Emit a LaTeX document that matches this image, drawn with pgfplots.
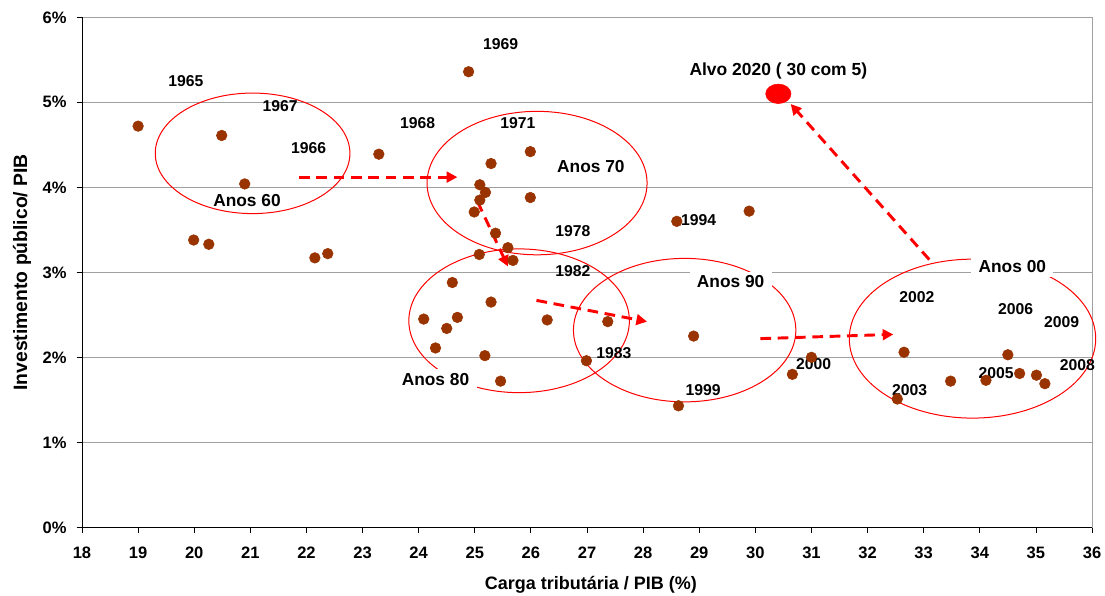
\documentclass[border=0pt]{standalone}
\usepackage{pgfplots}
\pgfplotsset{compat=1.18}
\usepackage{fontspec}
\setmainfont{Liberation Sans}
\usetikzlibrary{arrows.meta,calc}
\definecolor{dotbrown}{RGB}{153,51,0}
\definecolor{gridgray}{RGB}{160,160,160}
\tikzset{
  yearlab/.style={font=\bfseries\fontsize{11.8}{14}\selectfont, inner sep=0pt},
  anoslab/.style={font=\bfseries\fontsize{13}{15}\selectfont, fill=white, inner xsep=5.5pt, inner ysep=3pt},
  ell/.style={red, line width=0.75pt},
  arr/.style={red, line width=2.2pt, dash pattern=on 8pt off 5pt, -{Triangle[length=8pt,width=8pt]}},
}

\begin{document}
\begin{tikzpicture}
\begin{axis}[
  scale only axis, width=757.5pt, height=382.5pt,
  xmin=18, xmax=36, ymin=0, ymax=6,
  xtick={18,...,36}, ytick={0,...,6},
  yticklabels={0\%,1\%,2\%,3\%,4\%,5\%,6\%},
  tick align=outside, xtick pos=bottom, ytick pos=left,
  major tick length=4pt,
  tick style={black, line width=0.6pt},
  ymajorgrids, grid style={gridgray, line width=0.7pt},
  axis line style={gridgray, line width=0.7pt},
  tick label style={font=\bfseries\fontsize{12.4}{14}\selectfont},
  xticklabel style={yshift=-7pt},
  yticklabel style={xshift=-4pt},
  /pgf/number format/assume math mode=true,
  clip=false,
]
% ellipses
\draw[ell] (axis cs:21.04,4.40) ellipse [x radius=73pt, y radius=45.2pt];
\draw[ell] (axis cs:26.11,4.05) ellipse [x radius=82.5pt, y radius=53.8pt];
\draw[ell] (axis cs:25.79,2.43) ellipse [x radius=82.7pt, y radius=53.9pt];
\draw[ell] (axis cs:28.74,2.32) ellipse [x radius=83.4pt, y radius=53.8pt];
\draw[ell] (axis cs:33.87,2.22) ellipse [x radius=92.4pt, y radius=59.6pt];

% data points 1965-2009
\addplot[only marks, mark=*, mark size=4pt, color=dotbrown, mark options={fill=dotbrown, draw=dotbrown}] coordinates {
(19.00,4.72) (20.49,4.61) (20.90,4.04) (19.99,3.38) (20.26,3.33)
(22.15,3.17) (22.38,3.22) (23.29,4.39) (24.89,5.36)
(25.29,4.28) (25.99,4.42) (25.09,4.03) (25.19,3.94) (25.09,3.85)
(24.99,3.71) (25.99,3.88) (25.37,3.46) (25.59,3.29) (25.08,3.21)
(25.68,3.14) (24.60,2.88) (28.60,3.60) (29.89,3.72)
(25.29,2.65) (24.09,2.45) (24.69,2.47) (24.50,2.34) (24.30,2.11)
(25.18,2.02) (25.46,1.72) (26.29,2.44) (27.37,2.42) (26.99,1.96)
(28.90,2.25) (28.63,1.43)
(30.66,1.80) (31.00,2.00) (32.65,2.06) (32.53,1.51) (33.48,1.72)
(34.11,1.73) (34.50,2.03) (34.71,1.81) (35.01,1.79) (35.16,1.69)
};
% target 2020
\addplot[only marks, mark=*, mark size=7.3pt, color=red, mark options={fill=red, draw=red, xscale=1.3}] coordinates {(30.41,5.10)};

% arrows
\draw[arr] (axis cs:21.87,4.12) -- (axis cs:24.69,4.12);
\draw[arr] (axis cs:25.05,3.83) -- (axis cs:25.59,3.07);
\draw[arr] (axis cs:26.10,2.67) -- (axis cs:28.07,2.42);
\draw[arr] (axis cs:30.09,2.22) -- (axis cs:32.46,2.27);
\draw[arr] (axis cs:33.10,3.15) -- (axis cs:30.63,4.98);

% year labels
\node[yearlab] at (axis cs:19.85,5.25) {1965};
\node[yearlab] at (axis cs:21.53,4.96) {1967};
\node[yearlab] at (axis cs:22.04,4.46) {1966};
\node[yearlab] at (axis cs:23.98,4.75) {1968};
\node[yearlab] at (axis cs:25.46,5.68) {1969};
\node[yearlab] at (axis cs:25.77,4.75) {1971};
\node[yearlab] at (axis cs:26.75,3.49) {1978};
\node[yearlab] at (axis cs:26.75,3.02) {1982};
\node[yearlab] at (axis cs:28.99,3.62) {1994};
\node[yearlab] at (axis cs:27.48,2.05) {1983};
\node[yearlab] at (axis cs:29.07,1.61) {1999};
\node[yearlab] at (axis cs:31.04,1.92) {2000};
\node[yearlab] at (axis cs:32.88,2.71) {2002};
\node[yearlab] at (axis cs:34.64,2.57) {2006};
\node[yearlab] at (axis cs:35.46,2.42) {2009};
\node[yearlab] at (axis cs:35.74,1.91) {2008};
\node[yearlab] at (axis cs:34.29,1.81) {2005};
\node[yearlab] at (axis cs:32.75,1.61) {2003};

% decade labels
\node[anoslab, fill=none] at (axis cs:20.94,3.84) {Anos 60};
\node[anoslab] at (axis cs:27.07,4.24) {Anos 70};
\node[anoslab] at (axis cs:24.30,1.74) {Anos 80};
\node[anoslab] at (axis cs:29.56,2.89) {Anos 90};
\node[anoslab] at (axis cs:34.58,3.07) {Anos 00};

\node[font=\bfseries\fontsize{13.1}{15}\selectfont, anchor=base, inner sep=0pt] at (axis cs:30.41,5.32) {Alvo 2020 ( 30 com 5)};

% black left and bottom axis lines
\draw[black, line width=0.7pt] (rel axis cs:0,1) -- (rel axis cs:0,0) -- (rel axis cs:1,0);

% axis titles
\node[font=\bfseries\fontsize{13.5}{15}\selectfont, anchor=base, inner sep=0pt] at ([yshift=-46.5pt]axis cs:27.07,0) {Carga tributária / PIB (\%)};
\end{axis}
\node[font=\bfseries\fontsize{14.5}{16}\selectfont, rotate=90, inner sep=0pt] at ([xshift=-45pt]current axis.west) {Investimento público/ PIB};
\pgfresetboundingbox
\path ($(current axis.south west)+(-61.5pt,-50.8pt)$) rectangle ($(current axis.north east)+(9.75pt,13pt)$);
\end{tikzpicture}
\end{document}
